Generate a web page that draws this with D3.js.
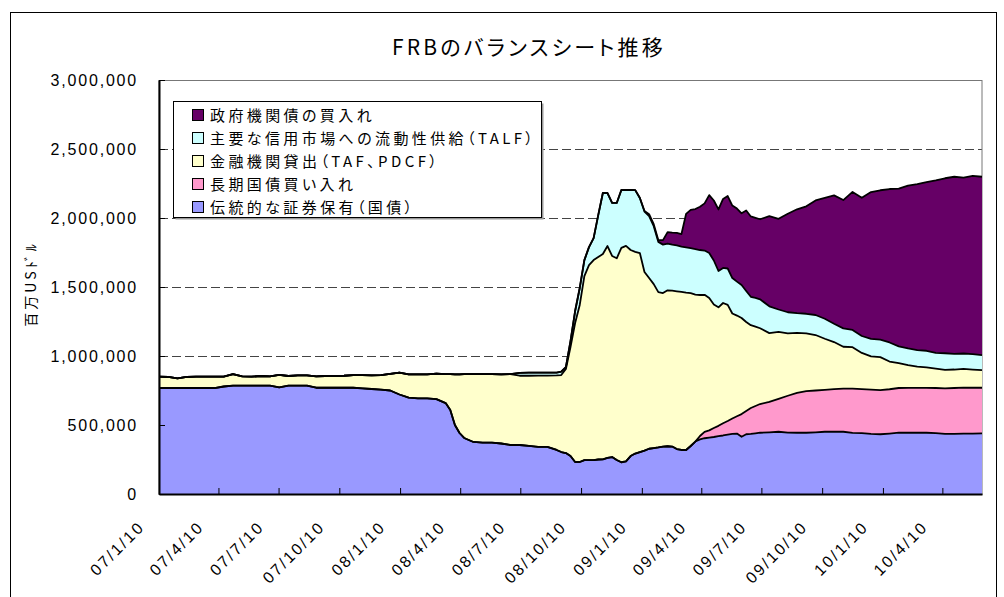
<!DOCTYPE html>
<html><head><meta charset="utf-8">
<script src="https://cdn.jsdelivr.net/npm/d3@7"></script>
<style>
html,body{margin:0;padding:0;background:#fff;}
svg{display:block;}
text{font-family:"Liberation Sans","Noto Sans CJK JP",sans-serif;fill:#000;}
.jp{font-family:"Noto Sans CJK JP","Liberation Sans",sans-serif;font-feature-settings:"palt";}
</style></head><body>
<svg id="chart" width="1004" height="597"></svg>
<script>
// weekly H.4.1 dates (sampled)
const dates = [
"2007-01-10","2007-01-24","2007-02-07","2007-02-21","2007-03-07","2007-03-21","2007-04-04","2007-04-18","2007-05-02","2007-05-16",
"2007-05-30","2007-06-13","2007-06-27","2007-07-11","2007-07-25","2007-08-08","2007-08-22","2007-09-05","2007-09-19","2007-10-03",
"2007-10-17","2007-10-31","2007-11-14","2007-11-28","2007-12-12","2007-12-26","2008-01-09","2008-01-23","2008-02-06","2008-02-20",
"2008-03-05","2008-03-19","2008-03-26","2008-04-02","2008-04-09","2008-04-16","2008-04-30","2008-05-14","2008-05-28","2008-06-11",
"2008-06-25","2008-07-09","2008-07-23","2008-08-06","2008-08-20","2008-09-03","2008-09-10","2008-09-17","2008-09-24","2008-10-01",
"2008-10-08","2008-10-15","2008-10-22","2008-10-29","2008-11-05","2008-11-12","2008-11-19","2008-11-26","2008-12-03","2008-12-10",
"2008-12-17","2008-12-24","2008-12-31","2009-01-07","2009-01-14","2009-01-21","2009-01-28","2009-02-04","2009-02-11","2009-02-18",
"2009-02-25","2009-03-04","2009-03-11","2009-03-18","2009-03-25","2009-04-01","2009-04-08","2009-04-15","2009-04-22","2009-04-29",
"2009-05-06","2009-05-13","2009-05-20","2009-05-27","2009-06-03","2009-06-10","2009-06-17","2009-06-24","2009-07-01","2009-07-08",
"2009-07-22","2009-08-05","2009-08-19","2009-09-02","2009-09-16","2009-09-30","2009-10-14","2009-10-28","2009-11-11","2009-11-25",
"2009-12-09","2009-12-23","2010-01-06","2010-01-20","2010-02-03","2010-02-17","2010-03-03","2010-03-17","2010-03-31","2010-04-14",
"2010-04-28","2010-05-12","2010-05-26","2010-06-09"];

// 伝統的な証券保有（国債）
const traditional = [
768000,768000,768000,768000,768000,768000,768000,779000,785000,785000,
785000,785000,785000,772000,785000,785000,785000,770000,770000,770000,
770000,770000,766000,761000,757000,750000,721000,699000,693000,693000,
688000,659000,609000,500000,442000,406000,377000,372000,372000,366000,
355000,355000,348000,341000,341000,319000,304000,297000,275000,232000,
232000,246000,246000,246000,250000,251000,261000,268000,246000,230000,
236000,275000,293000,304000,314000,328000,333000,338000,344000,346000,
344000,326000,319000,319000,348000,380000,396000,404000,409000,413000,
419000,424000,430000,435000,438000,415000,433000,436000,440000,444000,
447000,451000,445000,444000,444000,447000,451000,451000,451000,443000,
441000,436000,433000,438000,444000,444000,444000,444000,441000,436000,
436000,438000,438000,440000];

// 長期国債買い入れ
const longTermTreasury = [
0,0,0,0,0,0,0,0,0,0,
0,0,0,0,0,0,0,0,0,0,
0,0,0,0,0,0,0,0,0,0,
0,0,0,0,0,0,0,0,0,0,
0,0,0,0,0,0,0,0,0,0,
0,0,0,0,0,0,0,0,0,0,
0,0,0,0,0,0,0,0,0,0,
0,0,0,0,0,0,24000,46000,52000,65000,
75000,89000,99000,112000,125000,164000,168000,187000,198000,208000,
220000,239000,267000,288000,302000,303000,304000,309000,312000,320000,
319000,320000,320000,321000,324000,325000,325000,325000,327000,330000,
332000,333000,332000,330000];

// 金融機関貸出（TAF、PDCF）
const lending = [
82000,80000,70000,80000,82000,82000,82000,71000,83000,68000,
65000,70000,68000,91000,70000,74000,74000,83000,85000,85000,
87000,92000,96000,99000,105000,120000,159000,168000,174000,174000,
185000,210000,259000,367000,425000,462000,491000,496000,496000,501000,
514000,502000,509000,517000,517000,540000,558000,609000,790000,1007000,
1138000,1333000,1413000,1449000,1467000,1488000,1536000,1457000,1462000,1553000,
1562000,1493000,1462000,1442000,1295000,1237000,1188000,1125000,1112000,1130000,
1130000,1143000,1145000,1140000,1107000,1065000,1022000,993000,959000,895000,
859000,871000,841000,761000,730000,696000,645000,600000,575000,549000,
499000,485000,452000,436000,418000,402000,370000,341000,304000,301000,
262000,241000,239000,201000,180000,165000,154000,149000,141000,134000,
134000,135000,132000,128000];

// 主要な信用市場への流動性供給（TALF）
const creditMarkets = [
0,0,0,0,0,0,0,0,0,0,
0,0,0,0,0,0,0,0,0,0,
0,0,0,0,0,0,0,0,0,0,
0,0,0,0,0,0,0,0,0,0,
0,20000,22000,22000,22000,20000,24000,14000,43000,87000,
123000,116000,130000,159000,304000,442000,384000,384000,401000,420000,
406000,435000,447000,399000,438000,449000,420000,364000,351000,339000,
333000,332000,328000,328000,326000,330000,326000,321000,326000,319000,
263000,254000,264000,257000,246000,239000,225000,206000,208000,210000,
194000,162000,153000,142000,142000,145000,145000,133000,133000,125000,
123000,127000,127000,138000,122000,121000,120000,120000,114000,120000,
114000,112000,112000,109000];

// 政府機関債の買入れ
const agency = [
0,0,0,0,0,0,0,0,0,0,
0,0,0,0,0,0,0,0,0,0,
0,0,0,0,0,0,0,0,0,0,
0,0,0,0,0,0,0,0,0,0,
0,0,0,0,0,0,0,0,0,0,
0,0,0,0,0,0,0,0,0,0,
0,0,0,0,4000,14000,14000,12000,33000,83000,
87000,91000,92000,243000,278000,290000,314000,342000,420000,435000,
446000,500000,525000,525000,529000,520000,583000,582000,580000,580000,
654000,657000,714000,753000,779000,830000,875000,930000,930000,1000000,
1002000,1064000,1082000,1112000,1143000,1180000,1202000,1222000,1250000,1268000,
1283000,1275000,1291000,1292000];

const seriesKeys = ["traditional","longTermTreasury","lending","creditMarkets","agency"];
const seriesLabels = {
  traditional: "伝統的な証券保有（国債）",
  longTermTreasury: "長期国債買い入れ",
  lending: "金融機関貸出（TAF、PDCF）",
  creditMarkets: "主要な信用市場への流動性供給（TALF）",
  agency: "政府機関債の買入れ"
};
const seriesColors = {
  traditional: "#9999FF",
  longTermTreasury: "#FF99CC",
  lending: "#FFFFCC",
  creditMarkets: "#CCFFFF",
  agency: "#660066"
};
const legendOrder = ["agency","creditMarkets","lending","longTermTreasury","traditional"];
const yTicks = [0,500000,1000000,1500000,2000000,2500000,3000000];
const xTickDates = ["2007-01-10","2007-04-10","2007-07-10","2007-10-10","2008-01-10","2008-04-10","2008-07-10",
  "2008-10-10","2009-01-10","2009-04-10","2009-07-10","2009-10-10","2010-01-10","2010-04-10"];
const title = "FRBのバランスシート推移";
const yTitle = "百万USﾄﾞﾙ";

const parse = d3.timeParse("%Y-%m-%d");
const rows = dates.map((d,i)=>({
  date: parse(d),
  traditional: traditional[i],
  longTermTreasury: longTermTreasury[i],
  lending: lending[i],
  creditMarkets: creditMarkets[i],
  agency: agency[i]
}));

const L = 159, R = 982, T = 80, B = 494;
const svg = d3.select("#chart");

// outer chart border
svg.append("rect").attr("x",10.5).attr("y",12.5).attr("width",986).attr("height",600)
  .attr("fill","#fff").attr("stroke","#000").attr("stroke-width",1);

const x = d3.scaleTime().domain([rows[0].date, rows[rows.length-1].date]).range([L, R]);
const y = d3.scaleLinear().domain([0, 3000000]).range([B, T]);

// gridlines
svg.append("g").selectAll("line").data(yTicks.filter(v=>v>0 && v<3000000)).join("line")
  .attr("x1",L).attr("x2",R).attr("y1",d=>Math.round(y(d))+0.5).attr("y2",d=>Math.round(y(d))+0.5)
  .attr("stroke","#444").attr("stroke-width",1).attr("stroke-dasharray","9,4");

// plot border
svg.append("rect").attr("x",L).attr("y",T+0.5).attr("width",R-L).attr("height",B-T)
  .attr("fill","none").attr("stroke","#777").attr("stroke-width",1);

const stack = d3.stack().keys(seriesKeys);
const layers = stack(rows);

const area = d3.area().x(d=>x(d.data.date)).y0(d=>y(d[0])).y1(d=>y(d[1]));
const topLine = d3.line().x(d=>x(d.data.date)).y(d=>y(d[1]));

svg.append("g").selectAll("path").data(layers).join("path")
  .attr("d",area).attr("fill",d=>seriesColors[d.key]).attr("stroke","none");
svg.append("g").selectAll("path").data(layers).join("path")
  .attr("d",topLine).attr("fill","none").attr("stroke","#000").attr("stroke-width",1.8)
  .attr("stroke-linejoin","round");

// y axis
const yAxis = d3.axisLeft(y).tickValues(yTicks).tickFormat(d3.format(","))
  .tickSizeInner(-6).tickSizeOuter(0).tickPadding(21);
const gy = svg.append("g").attr("transform",`translate(${L},0)`).call(yAxis);
gy.select(".domain").attr("stroke","#000").attr("stroke-width",2);
gy.selectAll(".tick line").attr("stroke","#000").attr("stroke-width",1);
gy.selectAll(".tick text").attr("font-size",16).attr("font-family","Liberation Sans, sans-serif")
  .style("letter-spacing","1.8px").attr("dy","0.36em");

// x axis
const xAxis = d3.axisBottom(x).tickValues(xTickDates.map(parse))
  .tickFormat(d3.timeFormat("%y/%-m/%-d")).tickSizeInner(-6).tickSizeOuter(0);
const gx = svg.append("g").attr("transform",`translate(0,${B})`).call(xAxis);
gx.select(".domain").attr("stroke","#000").attr("stroke-width",2);
gx.selectAll(".tick line").attr("stroke","#000").attr("stroke-width",1);
gx.selectAll(".tick text").attr("font-size",16).attr("font-family","Liberation Sans, sans-serif")
  .style("letter-spacing","2.2px")
  .attr("y",null).attr("dy",null).attr("text-anchor","end")
  .attr("transform","translate(-14,34) rotate(-45)");

// title
svg.append("text").attr("class","jp").attr("x",529).attr("y",55).attr("text-anchor","middle")
  .attr("font-size",21).style("letter-spacing","3.2px").text(title);

// y title
svg.append("text").attr("class","jp").attr("transform","translate(36,284) rotate(-90)")
  .attr("text-anchor","middle").attr("font-size",14).style("letter-spacing","3px").text(yTitle);

// legend
const lg = svg.append("g");
lg.append("rect").attr("x",175.5).attr("y",103.5).attr("width",368).attr("height",116).attr("fill","#999");
lg.append("rect").attr("x",173.5).attr("y",101.5).attr("width",368).attr("height",116)
  .attr("fill","#fff").attr("stroke","#000").attr("stroke-width",1);
legendOrder.forEach((k,i)=>{
  const cy = 115 + i*23;
  lg.append("rect").attr("x",192.5).attr("y",cy-5.5).attr("width",11).attr("height",11)
    .attr("fill",seriesColors[k]).attr("stroke","#000").attr("stroke-width",1);
  lg.append("text").attr("class","jp").attr("x",210).attr("y",cy+5.5).attr("font-size",15)
    .style("letter-spacing","3.4px").text(seriesLabels[k]);
});
</script>
</body></html>
